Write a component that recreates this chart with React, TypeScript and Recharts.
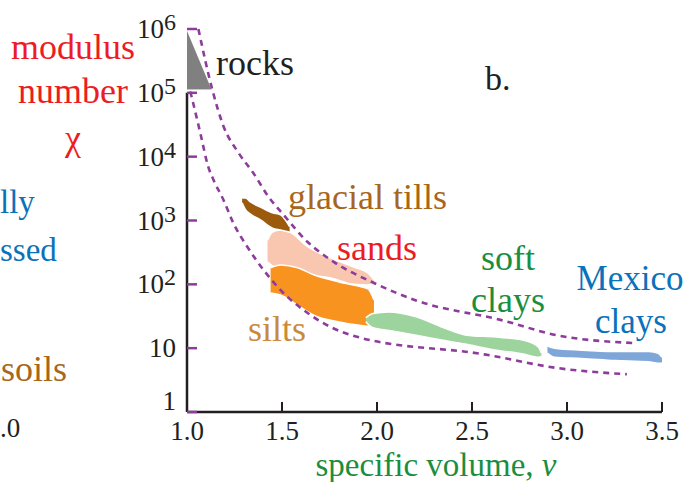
import React from 'react';
import { ComposedChart, Area, Line, XAxis, YAxis, ReferenceLine } from 'recharts';

const xTicks = [1.0, 1.5, 2.0, 2.5, 3.0, 3.5];
const yTicks = [1, 10, 100, 1000, 10000, 100000, 1000000];

// soil regions as [low, high] modulus number at each specific volume
const rocks = [
  { v: 1.0, range: [110000, 1000000] },
  { v: 1.135, range: [110000, 110000] },
];
const glacialTills = [
  { v: 1.29, range: [1900, 2250] },
  { v: 1.308, range: [1480, 2260] },
  { v: 1.334, range: [1260, 1950] },
  { v: 1.387, range: [1020, 1620] },
  { v: 1.45, range: [760, 1320] },
  { v: 1.492, range: [710, 1230] },
  { v: 1.52, range: [680, 1000] },
  { v: 1.54, range: [660, 800] },
];
const sands = [
  { v: 1.424, range: [224, 490] },
  { v: 1.45, range: [195, 661] },
  { v: 1.492, range: [166, 708] },
  { v: 1.545, range: [155, 646] },
  { v: 1.635, range: [141, 389] },
  { v: 1.757, range: [126, 257] },
  { v: 1.878, range: [100, 186] },
  { v: 1.952, range: [98, 151] },
  { v: 1.984, range: [105, 117] },
];
const silts = [
  { v: 1.44, range: [73, 182] },
  { v: 1.492, range: [68, 200] },
  { v: 1.582, range: [47, 182] },
  { v: 1.667, range: [33, 141] },
  { v: 1.794, range: [26, 110] },
  { v: 1.9, range: [23, 94] },
  { v: 1.952, range: [22, 85] },
  { v: 1.984, range: [26, 57] },
];
const softClays = [
  { v: 1.941, range: [26, 30] },
  { v: 1.978, range: [21, 35] },
  { v: 2.063, range: [19, 37] },
  { v: 2.206, range: [16, 31] },
  { v: 2.348, range: [13.3, 21] },
  { v: 2.47, range: [11.5, 16] },
  { v: 2.628, range: [9.3, 14.9] },
  { v: 2.77, range: [8.1, 13.3] },
  { v: 2.85, range: [7.2, 10.4] },
  { v: 2.866, range: [7.5, 8.3] },
];
const mexicoClays = [
  { v: 2.897, range: [8.4, 10.8] },
  { v: 2.934, range: [7.2, 10] },
  { v: 3.077, range: [6.9, 9.3] },
  { v: 3.251, range: [6.4, 8.9] },
  { v: 3.43, range: [6.1, 8.9] },
  { v: 3.48, range: [5.8, 8.3] },
  { v: 3.5, range: [5.8, 7.2] },
];

// dashed bounding curves
const upperBound = [
  { v: 1.06, x: 1000000 },
  { v: 1.134, x: 110000 },
  { v: 1.192, x: 30000 },
  { v: 1.271, x: 11500 },
  { v: 1.35, x: 5500 },
  { v: 1.429, x: 2350 },
  { v: 1.508, x: 1230 },
  { v: 1.635, x: 460 },
  { v: 1.772, x: 225 },
  { v: 1.984, x: 105 },
  { v: 2.205, x: 56 },
  { v: 2.655, x: 27.5 },
  { v: 2.945, x: 16 },
  { v: 3.357, x: 12 },
];
const lowerBound = [
  { v: 1.017, x: 105000 },
  { v: 1.028, x: 78000 },
  { v: 1.07, x: 23500 },
  { v: 1.112, x: 6900 },
  { v: 1.139, x: 4350 },
  { v: 1.192, x: 2100 },
  { v: 1.244, x: 910 },
  { v: 1.318, x: 385 },
  { v: 1.403, x: 168 },
  { v: 1.493, x: 81 },
  { v: 1.635, x: 35.5 },
  { v: 1.757, x: 21.4 },
  { v: 1.915, x: 14.5 },
  { v: 2.565, x: 8.0 },
  { v: 2.945, x: 4.9 },
  { v: 3.315, x: 3.9 },
];

const serif = "'Liberation Serif', 'DejaVu Serif', 'Times New Roman', serif";
const ink = '#231f20';
const purple = '#8e3c9c';
const red = '#ec1c24';
const green = '#1b8e3e';
const blue = '#0a72ba';
const brown = '#a8661b';

const txt = (size: number) => ({ fontFamily: serif, fontSize: size });

function XTick(props: any) {
  const { x, y, payload } = props;
  return (
    <g>
      <line x1={x} x2={x} y1={y} y2={y - 10} stroke={ink} strokeWidth={2} />
      <text x={x} y={y + 28} textAnchor="middle" style={txt(27)} fill={ink}>
        {Number(payload.value).toFixed(1)}
      </text>
    </g>
  );
}

function YTick(props: any) {
  const { x, y, payload } = props;
  const exp = Math.round(Math.log10(payload.value));
  return (
    <g>
      <line x1={x} x2={x + 10} y1={y} y2={y} stroke={purple} strokeWidth={2.5} />
      <text x={x - 11} y={y} dy={exp === 0 ? -2 : 9} textAnchor="end" style={txt(27)} fill={ink}>
        {exp <= 1 ? (
          String(payload.value)
        ) : (
          <>
            <tspan>10</tspan>
            <tspan dy={-8} style={{ fontSize: 24 }}>{exp}</tspan>
          </>
        )}
      </text>
    </g>
  );
}

const region = (data: any[], fill: string, type: any = 'monotone') => (
  <Area
    data={data}
    dataKey="range"
    type={type}
    fill={fill}
    fillOpacity={1}
    stroke="#ffffff"
    strokeWidth={1.5}
    dot={false}
    activeDot={false}
    isAnimationActive={false}
  />
);

export default function App() {
  return (
    <div style={{ position: 'absolute', left: 0, top: 0, width: 689, height: 482, background: '#fff' }}>
      <ComposedChart width={689} height={482} margin={{ top: 29, right: 27, bottom: 0, left: 0 }}>
        <XAxis
          type="number"
          dataKey="v"
          domain={[1, 3.5]}
          ticks={xTicks}
          interval={0}
          height={70}
          axisLine={{ stroke: ink, strokeWidth: 2.5 }}
          tickLine={false}
          tickSize={0}
          tickMargin={0}
          tick={(p: any) => <XTick {...p} />}
        />
        <YAxis
          type="number"
          scale="log"
          domain={[1, 1000000]}
          ticks={yTicks}
          interval={0}
          width={187}
          axisLine={false}
          tickLine={false}
          tickSize={0}
          tickMargin={0}
          tick={(p: any) => <YTick {...p} />}
        />
        <ReferenceLine segment={[{ x: 1, y: 1 }, { x: 1, y: 100000 }]} stroke={ink} strokeWidth={2.5} />
        {region(rocks, '#808080', 'linear')}
        {region(sands, '#f9c6b0')}
        {region(glacialTills, '#9c5a0c')}
        {region(silts, '#f7931e')}
        {region(softClays, '#9dd39c')}
        {region(mexicoClays, '#7ea6d8')}
        <Line data={upperBound} dataKey="x" type="monotone" stroke={purple} strokeWidth={2.6} strokeDasharray="6 5" dot={false} activeDot={false} isAnimationActive={false} />
        <Line data={lowerBound} dataKey="x" type="monotone" stroke={purple} strokeWidth={2.6} strokeDasharray="6 5" dot={false} activeDot={false} isAnimationActive={false} />
      </ComposedChart>
      <svg width={689} height={482} style={{ position: 'absolute', left: 0, top: 0, pointerEvents: 'none', fontFamily: serif }}>
        <text x={73} y={59} textAnchor="middle" style={txt(36)} fill={red}>modulus</text>
        <text x={73} y={103} textAnchor="middle" style={txt(36)} fill={red}>number</text>
        <text x={73} y={150} textAnchor="middle" style={txt(36)} fill={red}>χ</text>
        <text x={0} y={213} style={txt(33)} fill={blue}>lly</text>
        <text x={0} y={261} style={txt(33)} fill={blue}>ssed</text>
        <text x={1} y={381} style={txt(36)} fill={brown}>soils</text>
        <text x={0} y={437} style={txt(27)} fill={ink}>.0</text>
        <text x={216} y={75} style={txt(36)} fill={ink}>rocks</text>
        <text x={485} y={90} style={txt(34)} fill={ink}>b.</text>
        <text x={288} y={209} style={txt(36)} fill={brown}>glacial tills</text>
        <text x={337} y={260} style={txt(36)} fill={red}>sands</text>
        <text x={248} y={341} style={txt(36)} fill="#c98a3c">silts</text>
        <text x={508} y={270} textAnchor="middle" style={txt(36)} fill={green}>soft</text>
        <text x={508} y={312} textAnchor="middle" style={txt(36)} fill={green}>clays</text>
        <text x={630} y={290} textAnchor="middle" style={txt(35)} fill={blue}>Mexico</text>
        <text x={631} y={333} textAnchor="middle" style={txt(35)} fill={blue}>clays</text>
        <text x={436} y={476} textAnchor="middle" style={txt(33)} fill={green}>
          specific volume, <tspan style={{ fontStyle: 'italic' }}>v</tspan>
        </text>
      </svg>
    </div>
  );
}
